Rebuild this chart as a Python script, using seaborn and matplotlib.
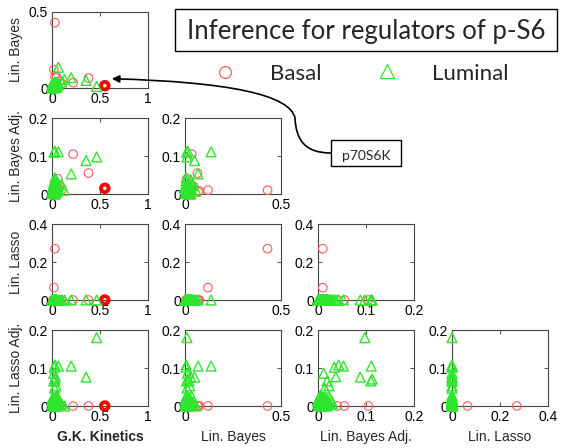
import matplotlib
matplotlib.use("Agg")
import matplotlib.pyplot as plt
from matplotlib.patches import Rectangle, FancyArrowPatch
from matplotlib.path import Path
from matplotlib.lines import Line2D
import pandas as pd
import seaborn as sns

# ---- methods, axis ranges and tick labels ----
methods = ["G.K. Kinetics", "Lin. Bayes", "Lin. Bayes Adj.", "Lin. Lasso", "Lin. Lasso Adj."]
axis_max = [1.0, 0.5, 0.2, 0.4, 0.2]
axis_ticks = [[0, 0.5, 1], [0, 0.5], [0, 0.1, 0.2], [0, 0.2, 0.4], [0, 0.1, 0.2]]
axis_ticklabels = [["0", "0.5", "1"], ["0", "0.5"], ["0", "0.1", "0.2"],
                   ["0", "0.2", "0.4"], ["0", "0.1", "0.2"]]

# ---- regulator scores, Basal cell lines ----
basal_gk  = [0.03, 0.02, 0.22, 0.38, 0.55, 0.06, 0.05, 0.02, 0.04, 0.01, 0.08, 0.03, 0.10]
basal_lb  = [0.43, 0.12, 0.035, 0.065, 0.015, 0.01, 0.07, 0.02, 0.03, 0.005, 0.045, 0.075, 0.03]
basal_lba = [0.01, 0.01, 0.105, 0.055, 0.015, 0.04, 0.005, 0.01, 0.015, 0.005, 0.02, 0.008, 0.01]
basal_ll  = [0.27, 0.065, 0, 0, 0, 0, 0, 0, 0, 0, 0, 0, 0]
basal_lla = [0, 0, 0, 0, 0, 0, 0, 0, 0, 0, 0, 0, 0]
highlight_index = 4
highlight_label = "p70S6K"

# ---- regulator scores, Luminal cell lines ----
luminal_gk  = [0.465, 0.20, 0.066, 0.355, 0.03, 0.02, 0.024, 0.03, 0.018, 0.035, 0.022, 0.04,
               0.025, 0.10, 0.13,
               0.01, 0.02, 0.03, 0.04, 0.05, 0.015, 0.025, 0.035, 0.045, 0.06,
               0.005, 0.02, 0.03, 0.01, 0.04, 0.07, 0.02, 0.05, 0.03, 0.012,
               0.000, 0.005, 0.010, 0.015, 0.020, 0.025, 0.030, 0.035, 0.040, 0.008,
               0.012, 0.018, 0.022, 0.028, 0.032, 0.038, 0.003, 0.014, 0.026, 0.045,
               0.006, 0.016, 0.024, 0.034, 0.042, 0.002, 0.019, 0.029, 0.036, 0.011]
luminal_lb  = [0.01, 0.068, 0.136, 0.05, 0.015, 0.008, 0.005, 0.006, 0.012, 0.03, 0.02, 0.025,
               0.01, 0.04, 0.057,
               0.005, 0.01, 0.02, 0.015, 0.03, 0.025, 0.008, 0.012, 0.035, 0.02,
               0.002, 0.018, 0.04, 0.028, 0.006, 0.022, 0.015, 0.01, 0.03, 0.004,
               0.012, 0.000, 0.025, 0.006, 0.018, 0.030, 0.003, 0.021, 0.009, 0.027,
               0.015, 0.001, 0.024, 0.010, 0.019, 0.005, 0.028, 0.013, 0.002, 0.022,
               0.016, 0.007, 0.029, 0.011, 0.004, 0.020, 0.026, 0.008, 0.017, 0.014]
luminal_lba = [0.0975, 0.053, 0.111, 0.088, 0.113, 0.11, 0.034, 0.043, 0.012, 0.037, 0.019, 0.023,
               0.014, 0.025, 0.01,
               0.004, 0.008, 0.012, 0.02, 0.015, 0.025, 0.006, 0.018, 0.01, 0.03,
               0.002, 0.014, 0.022, 0.009, 0.016, 0.012, 0.028, 0.005, 0.02, 0.011,
               0.006, 0.018, 0.002, 0.014, 0.010, 0.000, 0.020, 0.008, 0.016, 0.004,
               0.012, 0.019, 0.001, 0.015, 0.007, 0.017, 0.003, 0.011, 0.013, 0.009,
               0.005, 0.020, 0.002, 0.016, 0.012, 0.006, 0.010, 0.018, 0.000, 0.014]
luminal_ll  = [0] * 65
luminal_lla = [0.18, 0.105, 0.105, 0.076, 0.071, 0.066, 0.102, 0.108, 0.086, 0.077, 0.066, 0.053,
               0.047, 0.005, 0.0,
               0.002, 0.005, 0.01, 0.015, 0.008, 0.02, 0.012, 0.004, 0.025, 0.006,
               0.0, 0.018, 0.01, 0.003, 0.022, 0.007, 0.014, 0.028, 0.001, 0.016,
               0.015, 0.004, 0.010, 0.020, 0.000, 0.012, 0.007, 0.018, 0.002, 0.014,
               0.009, 0.016, 0.005, 0.019, 0.001, 0.011, 0.013, 0.003, 0.017, 0.006,
               0.020, 0.008, 0.014, 0.000, 0.010, 0.018, 0.004, 0.012, 0.016, 0.002]

basal = pd.DataFrame(dict(zip(methods, [basal_gk, basal_lb, basal_lba, basal_ll, basal_lla])))
luminal = pd.DataFrame(dict(zip(methods, [luminal_gk, luminal_lb, luminal_lba, luminal_ll, luminal_lla])))
highlight = basal.iloc[[highlight_index]]

RED = "#ff5a5a"
GREEN = "#2ee62e"

sns.set_style("ticks")
plt.rcParams["font.family"] = ["Liberation Sans", "DejaVu Sans"]

W, H = 562, 448
fig = plt.figure(figsize=(W / 100, H / 100), dpi=100)

col_left = [52, 185, 318, 452]
row_top = [12, 118, 224, 330]
pw, ph = 96, 76


def fig_xy(x, y):
    return x / W, 1 - y / H


axes = {}
for r in range(1, 5):
    for c in range(r):
        ax = fig.add_axes([col_left[c] / W, 1 - (row_top[r - 1] + ph) / H, pw / W, ph / H])
        axes[(r, c)] = ax
        xm, ym = methods[c], methods[r]
        sns.scatterplot(data=basal, x=xm, y=ym, ax=ax, marker="o", s=38, color=RED,
                        facecolor="none", edgecolor=RED, linewidth=0.8, legend=False,
                        clip_on=False, zorder=3)
        sns.scatterplot(data=highlight, x=xm, y=ym, ax=ax, marker="o", s=30, color="#ff0000",
                        facecolor="none", edgecolor="#ff0000", linewidth=2.8, legend=False,
                        clip_on=False, zorder=3)
        sns.scatterplot(data=luminal, x=xm, y=ym, ax=ax, marker="^", s=50, color=GREEN,
                        facecolor="none", edgecolor=GREEN, linewidth=1.0, legend=False,
                        clip_on=False, zorder=4)
        ax.set_xlim(0, axis_max[c])
        ax.set_ylim(0, axis_max[r])
        ax.set_xticks(axis_ticks[c])
        ax.set_xticklabels(axis_ticklabels[c])
        ax.set_yticks(axis_ticks[r])
        ax.set_yticklabels(axis_ticklabels[r])
        ax.tick_params(direction="in", length=3, width=0.6, top=True, right=True,
                       labelsize=10, pad=3, color="#333333", labelcolor="black")
        for sp in ax.spines.values():
            sp.set_color("#444444")
            sp.set_linewidth(0.8)
        ax.set_xlabel("")
        ax.set_ylabel("")
        if c == 0:
            ax.set_ylabel(ym, fontsize=10, labelpad=4)
        if r == 4:
            ax.set_xlabel(xm, fontsize=10, labelpad=4,
                          fontweight="bold" if c == 0 else "normal")

# ---- title box ----
fig.add_artist(Rectangle(fig_xy(175, 51), 382 / W, 42 / H, transform=fig.transFigure,
                         fill=False, edgecolor="black", linewidth=1.0))
fig.text(*fig_xy(366, 38.5), "Inference for regulators of p-S6", ha="center", va="baseline",
         fontsize=18.5, family=["Lato", "DejaVu Sans"])

# ---- legend ----
fig.add_artist(Line2D([225 / W], [1 - 72 / H], marker="o", markersize=8.5, markerfacecolor="none",
                      markeredgecolor=RED, markeredgewidth=0.9, transform=fig.transFigure))
fig.text(*fig_xy(270, 80), "Basal", ha="left", va="baseline", fontsize=16,
         family=["Lato", "DejaVu Sans"])
fig.add_artist(Line2D([387 / W], [1 - 71 / H], marker="^", markersize=10, markerfacecolor="none",
                      markeredgecolor=GREEN, markeredgewidth=0.9, transform=fig.transFigure))
fig.text(*fig_xy(432, 80), "Luminal", ha="left", va="baseline", fontsize=16,
         family=["Lato", "DejaVu Sans"])

# ---- callout for the highlighted regulator ----
fig.add_artist(Rectangle(fig_xy(331, 166), 70 / W, 26 / H, transform=fig.transFigure,
                         facecolor="white", edgecolor="black", linewidth=1.0, zorder=5))
fig.text(*fig_xy(366, 159.5), highlight_label, ha="center", va="baseline", fontsize=10,
         family=["Lato", "DejaVu Sans"], zorder=6)

ax_top = axes[(1, 0)]
tip_disp = ax_top.transData.transform((basal_gk[highlight_index], basal_lb[highlight_index]))
tip = fig.transFigure.inverted().transform((tip_disp[0] + 7, tip_disp[1] + 7))
verts = [fig_xy(331, 153), fig_xy(305, 153), fig_xy(296, 140), fig_xy(295, 118),
         fig_xy(290, 95), fig_xy(230, 82), tuple(tip)]
codes = [Path.MOVETO] + [Path.CURVE4] * 6
arrow = FancyArrowPatch(path=Path(verts, codes), arrowstyle="-|>", mutation_scale=11,
                        linewidth=1.2, color="black", transform=fig.transFigure)
fig.add_artist(arrow)

fig.savefig("out.png", dpi=100)
